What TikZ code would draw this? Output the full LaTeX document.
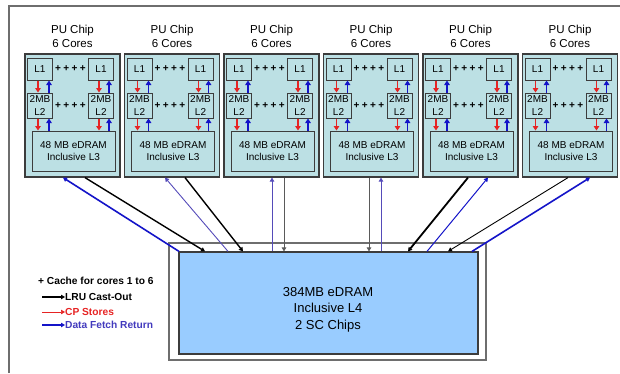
\documentclass[tikz,border=0pt]{standalone}
\usepackage{fontspec}
\setmainfont{Liberation Sans}
\usepackage{tikz}
\usetikzlibrary{arrows.meta,calc,positioning}
\definecolor{chipfill}{RGB}{188,224,228}
\definecolor{llfour}{RGB}{153,204,255}
\definecolor{edge}{RGB}{60,60,60}
\definecolor{frameline}{RGB}{110,110,110}
\definecolor{fetchblue}{RGB}{20,20,200}
\definecolor{fetchthin}{RGB}{85,75,185}
\definecolor{storered}{RGB}{230,35,35}
\definecolor{thingray}{RGB}{90,90,90}

\begin{document}
\begin{tikzpicture}[x=1pt,y=-1pt,
  chip/.style={draw=edge,fill=chipfill,line width=1.2pt,minimum width=95pt,minimum height=123pt,inner sep=0pt},
  cache/.style={draw=edge,fill=chipfill,line width=1pt,minimum width=25pt,inner sep=0pt,align=center,font=\fontsize{10}{12.5}\selectfont},
  chiptitle/.style={align=center,font=\fontsize{11.5}{14}\selectfont},
  plusrow/.style={inner sep=0pt,font=\fontsize{10}{10}\bfseries},
  legend/.style={anchor=west,inner sep=0pt,font=\fontsize{10.2}{11}\bfseries},
  tip/.style={-{Triangle[length=4pt,width=4.5pt]}},
  intip/.style={-{Triangle[length=4.5pt,width=5.5pt]}},
  store/.style={intip,storered,line width=1.8pt},
  fetch/.style={intip,fetchblue,line width=1.8pt}]
\useasboundingbox (0,0) rectangle (620,373);
% outer frame
\draw[frameline,line width=1.5pt] (9,373)--(9,6)--(620,6);

% PU chips
\foreach \i in {1,...,6}{
  \pgfmathsetmacro\xo{25+99.5*(\i-1)}
  \node[chiptitle] (t\i) at (\xo+47.5,36) {PU Chip\\6 Cores};
  \node[chip] (c\i) at (\xo+47.5,115.5) {};
  \node[cache,minimum height=22pt] (l1a\i) at (\xo+15,69) {\raisebox{-1.5pt}{L1}};
  \node[cache,minimum height=22pt] (l1b\i) at (\xo+76,69) {\raisebox{-1.5pt}{L1}};
  \node[cache,minimum height=25pt] (l2a\i) at (\xo+15,105.5) {2MB\\L2};
  \node[cache,minimum height=25pt] (l2b\i) at (\xo+76,105.5) {2MB\\L2};
  \node[cache,minimum width=83pt,minimum height=40pt] (l3\i) at (\xo+48.5,151) {48 MB eDRAM\\Inclusive L3};
  \node[plusrow] (pa\i) at ($(l1a\i.east)!0.5!(l1b\i.west)$) {+\kern2.4pt+\kern2.4pt+\kern2.4pt+};
  \node[plusrow] (pb\i) at ($(l2a\i.east)!0.5!(l2b\i.west)$) {+\kern2.4pt+\kern2.4pt+\kern2.4pt+};
  \draw[store] ([xshift=-2pt]l1a\i.south) -- ([xshift=-2pt]l2a\i.north);
  \draw[fetch] ([xshift=9pt]l2a\i.north) -- ([xshift=9pt]l1a\i.south);
  \draw[store] ([xshift=-2pt]l1b\i.south) -- ([xshift=-2pt]l2b\i.north);
  \draw[fetch] ([xshift=8pt]l2b\i.north) -- ([xshift=8pt]l1b\i.south);
  \draw[store] ([xshift=-2pt]l2a\i.south) -- ([xshift=-2pt]l2a\i.south |- l3\i.north);
  \draw[fetch] ([xshift=9pt]l2a\i.south |- l3\i.north) -- ([xshift=9pt]l2a\i.south);
  \draw[store] ([xshift=-2pt]l2b\i.south) -- ([xshift=-2pt]l2b\i.south |- l3\i.north);
  \draw[fetch] ([xshift=8pt]l2b\i.south |- l3\i.north) -- ([xshift=8pt]l2b\i.south);
}

% L4
\node[draw=frameline,fill=white,line width=1.2pt,minimum width=317pt,minimum height=117pt] (l4frame) at (327.5,301.5) {};
\node[draw=edge,fill=llfour,line width=1.2pt,minimum width=299pt,minimum height=102pt] (l4) at (328.5,303) {};
\node[align=center,font=\fontsize{13}{16.5}\selectfont] (l4txt) at (328,309.5) {384MB eDRAM\\Inclusive L4\\2 SC Chips};

% chip <-> L4
\draw[tip,fetchblue,line width=1.6pt] ([xshift=-149.5pt]l4.north) -- ([xshift=-9.5pt]c1.south);
\draw[tip,black,line width=1.4pt] ([xshift=12.5pt]c1.south) -- ([xshift=-123.5pt]l4.north);
\draw[tip,fetchthin,line width=0.9pt] ([xshift=-100.5pt]l4.north) -- ([xshift=-7pt]c2.south);
\draw[tip,black,line width=1.4pt] ([xshift=13pt]c2.south) -- ([xshift=-85.5pt]l4.north);
\draw[tip,fetchthin,line width=0.8pt] ([xshift=-56.5pt]l4.north) -- ([xshift=0.5pt]c3.south);
\draw[tip,thingray,line width=0.8pt] ([xshift=12.5pt]c3.south) -- ([xshift=-44.5pt]l4.north);
\draw[tip,thingray,line width=0.8pt] ([xshift=-2pt]c4.south) -- ([xshift=40.5pt]l4.north);
\draw[tip,fetchthin,line width=1pt] ([xshift=52.5pt]l4.north) -- ([xshift=10pt]c4.south);
\draw[tip,black,line width=1.8pt] ([xshift=-2.5pt]c5.south) -- ([xshift=79.5pt]l4.north);
\draw[tip,fetchblue,line width=1pt] ([xshift=98.5pt]l4.north) -- ([xshift=17.5pt]c5.south);
\draw[tip,black,line width=0.9pt] ([xshift=-2pt]c6.south) -- ([xshift=119.5pt]l4.north);
\draw[tip,fetchblue,line width=1.6pt] ([xshift=143.5pt]l4.north) -- ([xshift=20pt]c6.south);

% legend
\node[legend] (key) at (38,281) {+ Cache for cores 1 to 6};
\coordinate (lrutail) at (42,297);
\coordinate (cptail) at (42,312);
\coordinate (dftail) at (42,325);
\node[legend] (lru) at (65,297) {LRU Cast-Out};
\node[legend,storered] (cp) at (65,312) {CP Stores};
\node[legend,fetchthin!70!fetchblue] (df) at (65,325) {Data Fetch Return};
\draw[tip,black,line width=1.6pt] (lrutail) -- (lru.west);
\draw[tip,storered,line width=0.6pt] (cptail) -- (cp.west);
\draw[tip,fetchblue,line width=1.6pt] (dftail) -- (df.west);
\end{tikzpicture}
\end{document}
